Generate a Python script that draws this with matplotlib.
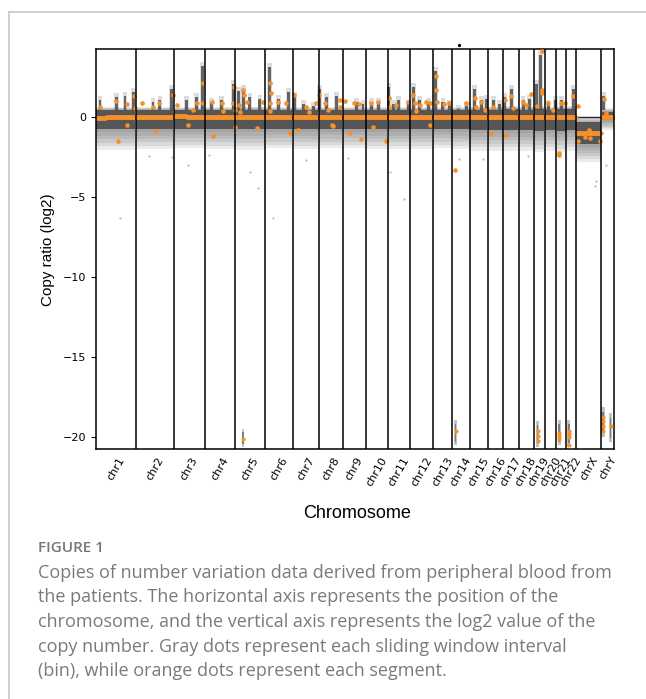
import numpy as np
import matplotlib
matplotlib.use('Agg')
import matplotlib.pyplot as plt
from matplotlib.lines import Line2D

# chromosome names and binned length (Mb) as laid out on the x axis
CHROMS = ['chr1', 'chr2', 'chr3', 'chr4', 'chr5', 'chr6', 'chr7', 'chr8', 'chr9', 'chr10',
          'chr11', 'chr12', 'chr13', 'chr14', 'chr15', 'chr16', 'chr17', 'chr18', 'chr19',
          'chr20', 'chr21', 'chr22', 'chrX', 'chrY']
CHROM_LEN = [244, 236, 196, 186, 186, 170, 161, 149, 143, 136, 140, 139, 120, 113, 108,
             97, 95, 93, 68, 74, 58, 64, 157, 76]

# gray bin cloud per chromosome: dense core and sparse halo (log2)
CORE_LO = [-0.75, -0.75, -0.72, -0.75, -0.75, -0.72, -0.75, -0.75, -0.72, -0.75, -0.75, -0.75,
           -0.72, -0.75, -0.80, -0.80, -0.80, -0.80, -0.85, -0.80, -0.85, -0.80, -1.70, -0.20]
CORE_HI = [0.42, 0.42, 0.42, 0.42, 0.45, 0.42, 0.42, 0.42, 0.42, 0.42, 0.42, 0.42,
           0.42, 0.42, 0.45, 0.45, 0.48, 0.45, 0.48, 0.45, 0.48, 0.48, -0.32, 0.33]
HALO_LO = [-2.05, -2.00, -1.95, -2.00, -2.05, -1.95, -2.00, -1.95, -1.95, -2.00, -2.00, -2.00,
           -1.95, -2.00, -2.10, -2.10, -2.10, -2.10, -2.20, -2.10, -2.20, -2.10, -2.80, -0.80]
HALO_HI = [0.62, 0.62, 0.62, 0.62, 0.65, 0.62, 0.62, 0.62, 0.62, 0.62, 0.62, 0.62,
           0.62, 0.62, 0.65, 0.65, 0.68, 0.65, 0.68, 0.65, 0.68, 0.68, -0.02, 0.55]

# gray amplified spikes: genome position (Mb) and top value
SPIKE_X = [23, 126, 178, 229, 352, 395, 467, 560, 622, 660, 716, 777, 849, 880, 911, 953, 1015,
           1077, 1128, 1190, 1232, 1283, 1345, 1384, 1428, 1490, 1614, 1654, 1707, 1748, 1815,
           1841, 1872, 1934, 1965, 2007, 2058, 2106, 2150, 2193, 2244, 2296, 2348, 2389, 2420,
           2461, 2503, 2534, 2575, 2647, 2689, 2730, 2753, 2802, 2850, 2885, 2957, 3148]
SPIKE_TOP = [1.29, 1.5, 1.6, 1.81, 1.19, 1.29, 2.0, 1.29, 1.5, 3.47, 1.19, 1.29, 2.33, 1.91, 2.0,
             1.5, 1.39, 3.37, 1.39, 1.81, 1.6, 1.08, 0.97, 2.0, 1.5, 1.6, 1.19, 1.08, 1.19, 1.19,
             2.12, 1.08, 1.29, 1.08, 2.12, 1.29, 1.19, 3.16, 1.19, 1.08, 0.77, 0.97, 2.0, 1.29,
             1.39, 1.29, 1.08, 1.5, 2.0, 1.29, 1.39, 2.33, 4.15, 1.08, 1.29, 1.29, 2.0, 1.6]

# isolated gray outlier bins
OUT_X = [147, 569, 953, 1002, 1096, 1820, 1908, 2250, 3092, 3102, 3160, 1300, 470, 330, 1560,
         2680, 700, 2400]
OUT_Y = [-6.27, -2.98, -3.40, -4.40, -6.30, -3.40, -5.10, -2.60, -4.30, -4.00, -3.00, -2.70,
         -2.50, -2.40, -2.55, -2.45, -2.35, -2.60]

# zero-coverage bins clipped near -20
LOW_X = [911, 2228, 2737, 2871, 2931, 3140, 3190]
LOW_LO = [-20.6, -20.5, -20.6, -20.5, -20.6, -20.0, -20.3]
LOW_HI = [-19.5, -18.9, -19.0, -18.9, -18.9, -18.1, -18.5]
LOW_W = [16, 18, 18, 18, 18, 24, 16]
LOW_SEG_X = [911, 2228, 2737, 2737, 2737, 2871, 2871, 2871, 2931, 2931, 2931, 2931,
             3140, 3140, 3140, 3140, 3190]
LOW_SEG_Y = [-20.1, -19.6, -19.6, -19.9, -20.2, -19.7, -19.9, -20.1, -19.6, -19.8, -20.0, -20.5,
             -18.7, -19.0, -19.3, -19.6, -19.3]

# segment baselines (start Mb, end Mb, log2)
SEG_START = [0, 60, 130, 244, 480, 560, 676, 862, 1048, 1218, 1379, 1528, 1671, 1807, 1947,
             2086, 2206, 2319, 2427, 2524, 2619, 2712, 2780, 2854, 2912, 2976, 3133]
SEG_END = [60, 130, 244, 480, 560, 676, 862, 1048, 1218, 1379, 1528, 1671, 1807, 1947, 2086,
           2206, 2319, 2427, 2524, 2619, 2712, 2780, 2854, 2912, 2976, 3133, 3209]
SEG_VAL = [-0.08, 0.04, 0.0, 0.0, 0.06, 0.0, 0.0, 0.0, 0.0, 0.02, 0.0, 0.0, 0.0, 0.02, 0.0,
           0.0, 0.0, 0.0, 0.04, 0.0, 0.04, 0.04, 0.0, 0.0, 0.02, -1.0, 0.04]

# off-baseline segments (orange)
SEG_PT_X = [23, 122, 192, 234, 240, 136, 192, 281, 353, 370, 391, 474, 498, 570, 601, 626, 663,
            663, 725, 715, 777, 787, 849, 856, 860, 887, 891, 911, 916, 932, 860, 998, 1032,
            1077, 1081, 1077, 1077, 1128, 1176, 1201, 1226, 1252, 1300, 1321, 1362, 1383, 1418,
            1438, 1466, 1511, 1511, 1542, 1459, 1573, 1598, 1631, 1639, 1701, 1717, 1748, 1796,
            1817, 1817, 1862, 1934, 1965, 1976, 1982, 2007, 2044, 2069, 2069, 2106, 2106, 2114,
            2156, 2189, 2226, 2296, 2348, 2354, 2389, 2410, 2445, 2461, 2534, 2540, 2571, 2582,
            2644, 2668, 2697, 2734, 2765, 2765, 2765, 2802, 2830, 2867, 2867, 2885, 2906, 2957,
            2985, 2988, 3030, 3057, 3123, 3061, 3095, 3150, 3160]
SEG_PT_Y = [0.62, 1.02, 0.83, 1.29, 0.56, -1.52, -0.48, 0.87, 0.66, -0.84, 0.87, 1.37, 0.77,
            -0.48, 0.46, 0.87, 2.16, 0.87, -1.17, 0.97, 0.91, 0.41, 0.87, 1.91, 0.46, 0.77, 0.35,
            1.7, 1.39, 0.97, -0.59, -0.69, 0.97, 2.12, 1.5, 0.87, 0.41, 0.97, 0.91, -0.96, 1.39,
            -0.79, 0.66, 0.35, 0.91, 1.39, 0.87, 0.46, -0.54, 1.08, 0.66, 1.02, -0.48, -1.0, 0.91,
            0.83, -1.37, 0.91, -0.59, 0.97, -1.48, 1.19, 0.62, 0.77, 0.97, 1.39, 0.87, 0.39, 0.77,
            0.97, -0.48, 0.91, 2.58, 1.7, 0.97, 0.83, 0.87, -3.29, 0.87, 1.19, 0.66, 0.97, 0.46,
            -1.0, 0.66, 1.08, -1.1, 1.33, 0.56, 0.97, 0.77, 1.43, 0.69, 4.1, 1.7, 1.5, 0.91, 0.46,
            -2.25, -2.35, 0.91, 0.87, 1.33, 0.7, -1.52, -1.21, -0.79, -1.52, -1.3, -1.0, 1.14, 0.29]

GRAY = '#505050'
ORANGE = '#f5902a'


def main():
    fig = plt.figure(figsize=(6.46, 6.99), dpi=100)
    ax = fig.add_axes([0.149, 0.357, 0.801, 0.573])

    bounds = np.concatenate([[0], np.cumsum(CHROM_LEN)])
    centers = (bounds[:-1] + bounds[1:]) / 2

    ax.axhline(0, color='#222222', lw=1.0, zorder=1)

    # gray bin cloud: halo as stacked translucent layers, then the dense core
    for i in range(len(CHROMS)):
        xs = [bounds[i] + 1, bounds[i + 1] - 1]
        for t in np.linspace(0.15, 1.0, 6):
            lo = CORE_LO[i] + t * (HALO_LO[i] - CORE_LO[i])
            hi = CORE_HI[i] + t * (HALO_HI[i] - CORE_HI[i])
            ax.fill_between(xs, lo, hi, color=GRAY, alpha=0.11, lw=0, zorder=1.2)
        ax.fill_between(xs, CORE_LO[i], CORE_HI[i], color=GRAY, alpha=0.92, lw=0, zorder=1.4)

    # spikes above the band
    sp_top = np.array(SPIKE_TOP)
    ax.bar(SPIKE_X, sp_top - 0.25 - 0.42, bottom=0.42, width=18, color=GRAY, alpha=0.85, lw=0,
           zorder=1.5)
    ax.bar(SPIKE_X, sp_top - 0.42, bottom=0.42, width=30, color=GRAY, alpha=0.2, lw=0,
           zorder=1.5)
    ax.scatter(OUT_X, OUT_Y, s=3, color='#8a8a8a', alpha=0.5, lw=0, zorder=1.6)

    low_hi = np.array(LOW_HI)
    low_lo = np.array(LOW_LO)
    ax.bar(LOW_X, low_hi - low_lo, bottom=low_lo, width=LOW_W, color=GRAY, alpha=0.35, lw=0,
           zorder=1.6)
    ax.bar(LOW_X, (low_hi - low_lo) * 0.7, bottom=low_lo + (low_hi - low_lo) * 0.15,
           width=np.array(LOW_W) * 0.6, color=GRAY, alpha=0.6, lw=0, zorder=1.6)

    # orange segments
    for s, e, v in zip(SEG_START, SEG_END, SEG_VAL):
        bx = np.arange(s + 1, e - 0.5, 2.0)
        ax.scatter(bx, np.full(len(bx), v), s=8, color=ORANGE, lw=0, zorder=2.5)
    ax.scatter(SEG_PT_X, SEG_PT_Y, s=11, color=ORANGE, lw=0, zorder=2.6)
    ax.scatter(LOW_SEG_X, LOW_SEG_Y, s=9, color=ORANGE, lw=0, zorder=2.6)

    # chromosome boundaries
    for b in bounds[1:-1]:
        ax.axvline(b, color='black', lw=1.1, zorder=4)

    # stray point above the frame
    ax.plot([2249], [4.5], 'o', color='black', ms=1.3, clip_on=False)

    ax.set_xlim(0, bounds[-1])
    ax.set_ylim(-20.75, 4.26)
    ax.set_yticks([0, -5, -10, -15, -20])
    ax.tick_params(axis='y', labelsize=8, length=3.5, width=0.8)
    ax.set_xticks(centers)
    ax.set_xticklabels(CHROMS, rotation=60, ha='center', fontsize=8)
    ax.tick_params(axis='x', length=0, pad=4)
    for sp in ax.spines.values():
        sp.set_linewidth(1.1)

    ax.set_ylabel('Copy ratio (log2)', family='Liberation Sans', fontsize=11, labelpad=6)
    fig.text(357 / 646, 1 - 514 / 699, 'Chromosome', family='Liberation Sans', fontsize=13,
             ha='center', va='center')

    # page frame
    fig.add_artist(Line2D([9 / 646, 9 / 646], [0, 1 - 12 / 699], transform=fig.transFigure,
                          color='#c8c8c8', lw=1.2))
    fig.add_artist(Line2D([9 / 646, 1], [1 - 12 / 699, 1 - 12 / 699], transform=fig.transFigure,
                          color='#c8c8c8', lw=1.2))

    # caption
    fig.text(38 / 646, 1 - 548 / 699, 'FIGURE 1', family='Open Sans', fontsize=11,
             fontweight='semibold', color='#777777', va='center')
    caption = ['Copies of number variation data derived from peripheral blood from',
               'the patients. The horizontal axis represents the position of the',
               'chromosome, and the vertical axis represents the log2 value of the',
               'copy number. Gray dots represent each sliding window interval',
               '(bin), while orange dots represent each segment.']
    for k, line in enumerate(caption):
        fig.text(38 / 646, 1 - (573 + 24.5 * k) / 699, line, family='Open Sans', fontsize=13,
                 color='#7a7a7a', va='center')

    fig.savefig('out.png', dpi=100)


if __name__ == '__main__':
    main()
